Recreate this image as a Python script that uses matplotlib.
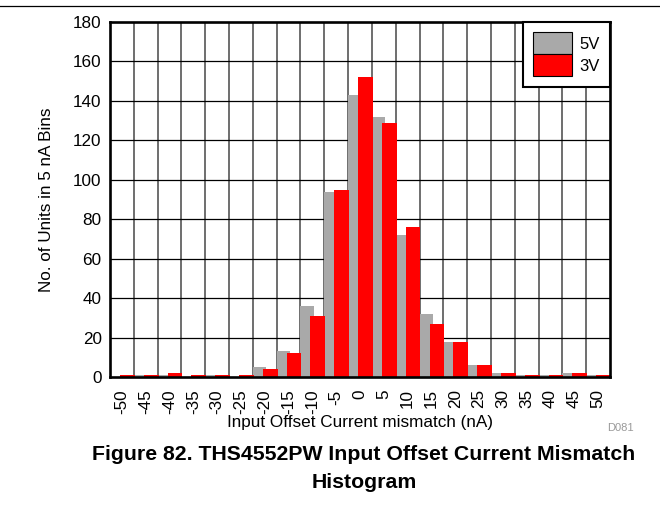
import matplotlib
matplotlib.use("Agg")
import matplotlib.pyplot as plt
from matplotlib.lines import Line2D
import numpy as np

plt.rcParams['font.family'] = ['Liberation Sans', 'DejaVu Sans']

bins = [-50, -45, -40, -35, -30, -25, -20, -15, -10, -5, 0, 5, 10, 15, 20, 25, 30, 35, 40, 45, 50]
tick_labels = [str(b) for b in bins]
counts_5v = [0, 1, 1, 0, 1, 0, 5, 13, 36, 94, 143, 132, 72, 32, 18, 6, 2, 1, 1, 2, 1]
counts_3v = [1, 1, 2, 1, 1, 1, 4, 12, 31, 95, 152, 129, 76, 27, 18, 6, 2, 1, 1, 2, 1]

fig = plt.figure(figsize=(6.6, 5.05), dpi=100)
ax = fig.add_axes([110/660, 1 - 377/505, 500/660, 355/505])

x = np.array(bins, dtype=float)
ax.bar(x - 2.5, counts_5v, width=2.8, align='edge', color='#A9A9A9', label='5V', zorder=3)
ax.bar(x - 0.4, counts_3v, width=3.1, align='edge', color='#FF0000', label='3V', zorder=4)

ax.set_xlim(-52.5, 52.5)
ax.set_ylim(0, 180)
ax.set_yticks(np.arange(0, 181, 20))
ax.set_xticks(x)
ax.set_xticklabels(tick_labels, rotation=90, fontsize=12.3)
ax.tick_params(axis='y', labelsize=12.3, length=0, pad=6)
ax.tick_params(axis='x', length=0, pad=9)

# grid lines
for b in np.arange(-47.5, 48, 5):
    ax.axvline(b, color='#555555', lw=1.2, zorder=1)
for g in range(20, 180, 20):
    ax.axhline(g, color='black', lw=0.9, zorder=1)

for s in ax.spines.values():
    s.set_linewidth(1.9)
    s.set_zorder(6)

ax.set_xlabel('Input Offset Current mismatch (nA)', fontsize=12.3)
ax.xaxis.set_label_coords(0.5, -0.107)
ax.set_ylabel('No. of Units in 5 nA Bins', fontsize=12.3)
ax.yaxis.set_label_coords(-0.112, 0.5)

leg = ax.legend(loc='upper right', borderaxespad=0, fontsize=12, frameon=True,
                fancybox=False, framealpha=1, edgecolor='black', labelspacing=0,
                handlelength=2.3, handleheight=1.65, handletextpad=0.45,
                borderpad=0.62)
leg.get_frame().set_linewidth(1.5)
leg.set_zorder(7)
for h in leg.legend_handles:
    h.set_edgecolor('black')
    h.set_linewidth(0.8)

fig.add_artist(Line2D([0, 1], [1 - 5.5/505, 1 - 5.5/505], color='black', lw=0.9))
fig.text(620/660, 1 - 428/505, 'D081', fontsize=8, color='#999999', ha='center', va='center')
fig.text(364/660, 1 - 455/505, 'Figure 82. THS4552PW Input Offset Current Mismatch',
         fontsize=15.3, fontweight='bold', ha='center', va='center')
fig.text(364/660, 1 - 482/505, 'Histogram', fontsize=15.3, fontweight='bold',
         ha='center', va='center')

fig.savefig('out.png', dpi=100)
